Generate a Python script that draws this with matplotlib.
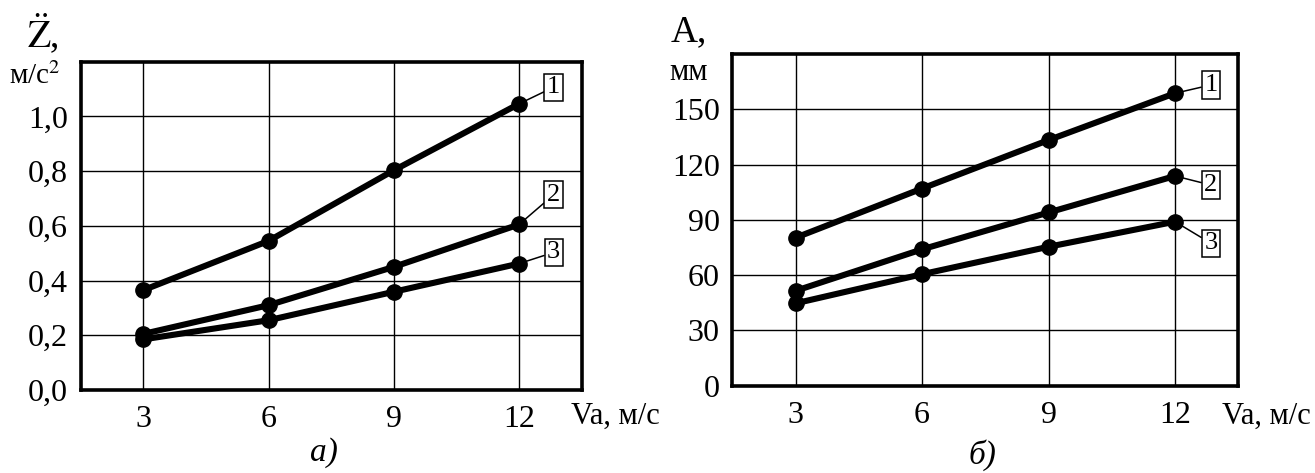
import numpy as np
import matplotlib
matplotlib.use("Agg")
import matplotlib.pyplot as plt

plt.rcParams['font.family'] = ['Liberation Serif', 'DejaVu Serif']
plt.rcParams['mathtext.fontset'] = 'stix'

# speed, m/s
va = [3, 6, 9, 12]

# a) vertical acceleration, m/s^2
acc_1 = [0.365, 0.545, 0.803, 1.046]
acc_2 = [0.205, 0.31, 0.45, 0.605]
acc_3 = [0.185, 0.255, 0.359, 0.462]
acc_ticks = [0.0, 0.2, 0.4, 0.6, 0.8, 1.0]
acc_ticklabels = ['0,0', '0,2', '0,4', '0,6', '0,8', '1,0']

# b) amplitude, mm
amp_1 = [80.3, 107, 133.3, 158.7]
amp_2 = [51.5, 74, 94, 113.8]
amp_3 = [44.7, 60.5, 75.4, 89]
amp_ticks = [0, 30, 60, 90, 120, 150]

curve_names = ['1', '2', '3']
# where the numbered boxes sit (x, y) in data units
acc_boxes = [(12.83, 1.107), (12.83, 0.714), (12.83, 0.503)]
amp_boxes = [(12.85, 163.2), (12.85, 108.9), (12.85, 77.3)]

W, H = 1315, 473
fig = plt.figure(figsize=(W / 100, H / 100), dpi=100)

ax1 = fig.add_axes([80.7 / W, 83 / H, 501 / W, 328.3 / H])
ax2 = fig.add_axes([732.3 / W, 87.3 / H, 506 / W, 331.7 / H])


def style_axes(ax, ylim, yticks, ylabels):
    ax.set_xlim(1.5, 13.5)
    ax.set_ylim(*ylim)
    ax.set_xticks(va)
    ax.set_xticklabels([str(v) for v in va])
    ax.set_yticks(yticks)
    ax.set_yticklabels(ylabels)
    ax.tick_params(length=0, labelsize=23, pad=9)
    ax.tick_params(axis='x', pad=11)
    ax.grid(True, color='black', linewidth=1.0)
    ax.set_axisbelow(True)
    for sp in ax.spines.values():
        sp.set_linewidth(2.6)


def draw_curves(ax, series, boxes):
    for ys, name, (bx, by) in zip(series, curve_names, boxes):
        ax.plot(va, ys, color='black', linewidth=4.4, marker='o',
                markersize=11, solid_capstyle='round', zorder=3)
        ax.annotate(name, xy=(va[-1], ys[-1]), xytext=(bx, by),
                    ha='center', va='center', fontsize=19,
                    bbox=dict(boxstyle='square,pad=0.1', fc='white',
                              ec='black', lw=1.1),
                    arrowprops=dict(arrowstyle='-', color='black', lw=1.1,
                                    shrinkA=0, shrinkB=0), zorder=4)


style_axes(ax1, (0, 1.2), acc_ticks, acc_ticklabels)
draw_curves(ax1, [acc_1, acc_2, acc_3], acc_boxes)

style_axes(ax2, (0, 180), amp_ticks, [str(t) for t in amp_ticks])
draw_curves(ax2, [amp_1, amp_2, amp_3], amp_boxes)


def px(x, y):
    return x / W, 1 - y / H


# axis titles
fig.text(*px(27, 34), r'$\ddot{\mathrm{Z}}$,', fontsize=27, ha='left', va='center')
fig.text(*px(9, 76), 'м/с$^2$', fontsize=21, ha='left', va='center')
fig.text(*px(671, 32), 'А,', fontsize=27, ha='left', va='center')
fig.text(*px(669, 72), 'мм', fontsize=22, ha='left', va='center')

fig.text(*px(571, 416), 'Va, м/с', fontsize=22, ha='left', va='center')
fig.text(*px(1222, 416), 'Va, м/с', fontsize=22, ha='left', va='center')

# panel captions
fig.text(*px(324, 453), 'а)', fontsize=24, style='italic', ha='center', va='center')
fig.text(*px(982, 455), 'б)', fontsize=24, style='italic', ha='center', va='center')

fig.savefig('out.png', dpi=100)
